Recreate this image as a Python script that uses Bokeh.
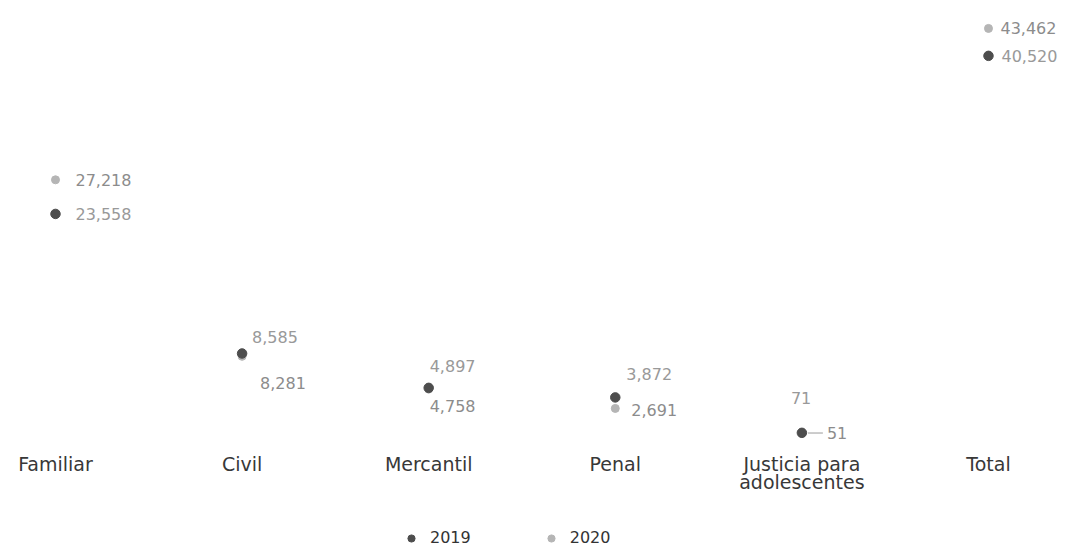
from bokeh.plotting import figure
from bokeh.models import (ColumnDataSource, Range1d, FixedTicker, Legend, LegendItem)
from bokeh.core.properties import value
from bokeh.embed import file_html
from bokeh.resources import INLINE

categories = ["Familiar", "Civil", "Mercantil", "Penal", "Justicia para\nadolescentes", "Total"]
values_2019 = [23558, 8585, 4897, 3872, 71, 40520]
values_2020 = [27218, 8281, 4758, 2691, 51, 43462]

# label pixel offsets (style only)
off_2019 = [(20, 0), (10, -16), (1, -22), (11, -23), (-11, -35), (13, 0)]
off_2020 = [(20, 0), (18, 27), (1, 17), (16, 2), (25, 0), (12, 0)]

FONT = "DejaVu Sans"
C19 = "#4d4d4d"
C20 = "#b5b5b5"

xs = list(range(len(categories)))
X0, X1 = -0.2947, 5.4449
Y0, Y1 = -12232, 46459
AXIS_AT = -1288
W = 1071

p = figure(width=W, height=547, output_backend="svg", toolbar_location=None,
           x_range=Range1d(X0, X1), y_range=Range1d(Y0, Y1),
           min_border_left=0, min_border_right=0, min_border_top=0, min_border_bottom=0)
p.outline_line_color = None
p.grid.visible = False
p.yaxis.visible = False
p.background_fill_color = "white"

ax = p.xaxis[0]
ax.fixed_location = AXIS_AT
ax.ticker = FixedTicker(ticks=xs)
ax.major_label_overrides = {i: c for i, c in enumerate(categories)}
ax.axis_line_color = None
ax.major_tick_line_color = None
ax.minor_tick_line_color = None
ax.major_tick_out = 0
ax.major_tick_in = 0
ax.major_label_text_font = FONT
ax.major_label_text_font_size = "19px"
ax.major_label_text_color = "#383838"
ax.major_label_text_line_height = 0.82
ax.major_label_standoff = 7

src19 = ColumnDataSource(dict(x=xs, y=values_2019,
                              lab=[f"{v:,}" for v in values_2019],
                              dx=[o[0] for o in off_2019], dy=[o[1] for o in off_2019]))
src20 = ColumnDataSource(dict(x=xs, y=values_2020,
                              lab=[f"{v:,}" for v in values_2020],
                              dx=[o[0] for o in off_2020], dy=[o[1] for o in off_2020]))

# leader line for the small Justicia 2020 label
ji = 4
px_per_unit = W / (X1 - X0)
p.segment(x0=[xs[ji] + 6 / px_per_unit], y0=[values_2020[ji]],
          x1=[xs[ji] + 21 / px_per_unit], y1=[values_2020[ji]],
          line_color="#9a9a9a", line_width=1)

r20 = p.scatter("x", "y", source=src20, size=8, color=C20)
r19 = p.scatter("x", "y", source=src19, size=9.5, color=C19)

p.text("x", "y", text="lab", source=src20, x_offset="dx", y_offset="dy",
       text_font=value(FONT), text_font_size="16px", text_color="#8c8c8c",
       text_align="left", text_baseline="middle")
p.text("x", "y", text="lab", source=src19, x_offset="dx", y_offset="dy",
       text_font=value(FONT), text_font_size="16px", text_color="#999999",
       text_align="left", text_baseline="middle")

legend = Legend(items=[LegendItem(label="2019", renderers=[r19]),
                       LegendItem(label="2020", renderers=[r20])],
                location=(401, 0), orientation="horizontal",
                label_text_font=FONT, label_text_font_size="16px", label_text_color="#333333",
                border_line_color=None, background_fill_alpha=0,
                padding=0, margin=0, spacing=70, label_standoff=9,
                glyph_width=20, glyph_height=18)
p.add_layout(legend, "center")

open("out.html", "w").write(file_html(p, INLINE))
